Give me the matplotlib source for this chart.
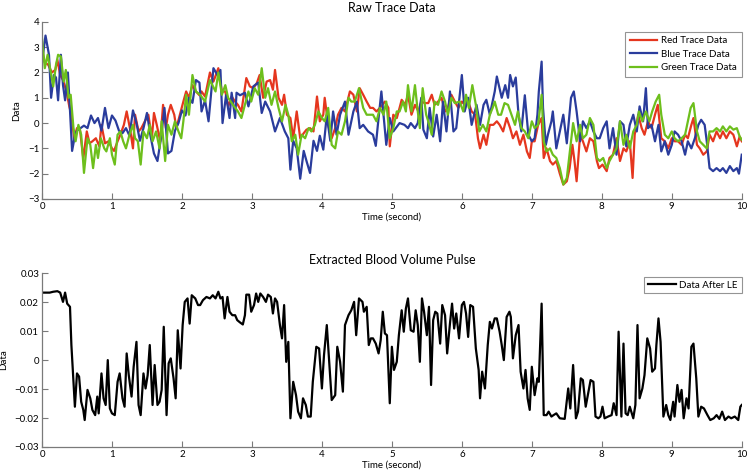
import numpy as np
import matplotlib.pyplot as plt

plt.rcParams['font.family'] = ['Lato', 'DejaVu Sans']

# ---- raw trace data (time in s, value) ----
red_t = [0, 0.04, 0.09, 0.14, 0.19, 0.22, 0.26, 0.3, 0.35, 0.39, 0.42, 0.46, 0.5, 0.54, 0.59, 0.64, 0.68, 0.72, 0.77, 0.82,
         0.85, 0.9, 0.95, 1.0, 1.03, 1.08, 1.12, 1.17, 1.21, 1.26, 1.3, 1.33, 1.38, 1.42, 1.47, 1.52, 1.57, 1.6, 1.64, 1.69,
         1.73, 1.77, 1.8, 1.84, 1.89, 1.92, 1.97, 2.02, 2.06, 2.1, 2.15, 2.2, 2.25,
         2.28, 2.33, 2.4, 2.45, 2.52, 2.57, 2.62, 2.66, 2.71, 2.76, 2.8, 2.85, 2.92, 2.97, 3.02, 3.07, 3.11, 3.16, 3.21, 3.26,
         3.3, 3.33, 3.38, 3.43, 3.46, 3.5, 3.55, 3.59, 3.64, 3.69, 3.74, 3.78, 3.83, 3.88, 3.93, 3.97, 4.02, 4.04, 4.09, 4.14,
         4.19, 4.23, 4.28, 4.33, 4.4, 4.45, 4.5, 4.54, 4.59, 4.64, 4.69, 4.73, 4.78,
         4.83, 4.9, 4.95, 4.97, 5.02, 5.07, 5.11, 5.14, 5.19, 5.23, 5.28, 5.33, 5.38, 5.42, 5.47, 5.52, 5.57, 5.61, 5.66, 5.71,
         5.76, 5.8, 5.85, 5.9, 5.95, 6.0, 6.04, 6.09, 6.14, 6.19, 6.23, 6.26, 6.31, 6.35, 6.4, 6.45, 6.5, 6.54, 6.59, 6.64,
         6.69, 6.73, 6.78, 6.83, 6.88, 6.93, 6.97, 7.0, 7.04, 7.09, 7.14, 7.17, 7.21, 7.26, 7.3, 7.35,
         7.4, 7.45, 7.5, 7.54, 7.58, 7.61, 7.64, 7.69, 7.73, 7.78, 7.83, 7.88, 7.93, 7.96, 8.01, 8.07, 8.11, 8.16, 8.21, 8.26,
         8.31, 8.35, 8.4, 8.44, 8.47, 8.52, 8.57, 8.61, 8.66, 8.71, 8.76, 8.8, 8.85, 8.9, 8.95, 9.0, 9.04, 9.09, 9.14, 9.19,
         9.23, 9.28, 9.31, 9.36, 9.4, 9.45, 9.5, 9.54, 9.59, 9.64, 9.69, 9.73, 9.78, 9.83, 9.88, 9.93, 9.97, 10.0]
red_v = [2.9, 2.4, 2.3, 2.0, 2.1, 2.5, 1.9, 1.7, 1.25, 0.66, 0.33, -0.6, -0.2, -0.2, -1.4, -0.33, -0.8, -0.72, -0.6, -0.92,
         -0.07, -0.8, -0.72, -1.0, -1.1, -0.72, -0.46, -0.07, 0.46, -0.26, -1.0, 0.33, -0.33, -0.2, 0.07, 0.33, -0.6, 0.4, -0.07, -0.72,
         0.72, -0.2, 0.33, 0.72, 0.33, -0.2, 0.33, 0.85, 1.25, 1.0, 1.5, 1.25, 1.1,
         1.25, 1.05, 2.0, 1.64, 2.17, 1.25, 1.25, 0.66, 1.05, 0.85, 0.72, 0.46, 1.78, 1.45, 1.38, 1.58, 1.9, 1.0, 1.64, 1.7,
         1.32, 2.1, 1.0, 0.72, 1.12, 0.33, 0.2, -0.6, 0.46, -0.6, -0.4, -0.26, -0.2, -0.33, 1.05, 0.07, 0.33, 1.0, -0.07, -0.6,
         -0.2, 0.33, 0.6, 0.46, 1.25, 1.12, 0.46, 1.38, 1.12, 0.85, 0.6, 0.6, 0.46,
         0.6, 0.85, 0.6, -0.92, 0.33, 0.2, 0.6, 0.92, 0.72, 1.12, 0.33, 0.72, 0.46, 0.85, 0.79, 0.79, 1.12, 0.72, 0.85, 1.0,
         0.46, 0.6, 1.12, 0.85, 0.6, 0.85, 0.72, 0.85, 0.46, 0.33, -0.6, -1.0, -0.46, -0.86, -0.07, -0.07, 0.07, -0.07, -0.33, 0.2,
         -0.2, -0.6, -0.33, -0.86, -0.46, -1.12, -1.38, -0.72, -0.72, -0.07, 0.2, -1.38, -1.0, -1.5, -1.64, -1.5,
         -2.0, -2.43, -2.3, -1.78, -0.86, -1.5, -2.3, -0.46, -0.72, -1.12, -0.6, -0.72, -1.5, -1.78, -1.64, -1.9, -1.38, -1.25, -0.6, -1.5,
         -1.0, -1.12, -0.72, -2.17, -0.46, 0.33, -0.2, -0.46, 0.07, -0.2, 0.33, 0.72, -0.6, -0.72, -1.0, -0.6, -0.72, -0.72, -0.86, -0.46,
         -0.6, -0.07, 0.2, -0.86, -1.0, -1.25, -1.12, -0.46, -0.72, -0.33, -0.6, -0.33, -0.6, -0.33, -0.46, -0.92, -0.53, -0.72]

blue_t = [0, 0.05, 0.1, 0.13, 0.17, 0.2, 0.23, 0.27, 0.3, 0.33, 0.37, 0.4, 0.43, 0.47, 0.5, 0.55, 0.6, 0.65, 0.7, 0.75,
          0.8, 0.85, 0.9, 0.95, 1.0, 1.05, 1.1, 1.15, 1.2, 1.25, 1.3, 1.35, 1.4, 1.45, 1.5, 1.55, 1.6, 1.65, 1.7, 1.75,
          1.8, 1.85, 1.9, 1.95, 2.0, 2.05, 2.1, 2.15, 2.2, 2.25,
          2.28, 2.33, 2.38, 2.45, 2.52, 2.55, 2.58, 2.63, 2.68, 2.71, 2.76, 2.78, 2.83, 2.9, 2.95, 3.02, 3.09, 3.14, 3.19, 3.26,
          3.33, 3.4, 3.47, 3.52, 3.55, 3.59, 3.64, 3.69, 3.74, 3.78, 3.83, 3.88, 3.93, 3.97, 4.02, 4.07, 4.12, 4.16, 4.21, 4.26,
          4.33, 4.38, 4.45, 4.5, 4.54, 4.59, 4.66, 4.73, 4.77, 4.8,
          4.85, 4.92, 4.97, 5.02, 5.11, 5.18, 5.23, 5.27, 5.33, 5.37, 5.42, 5.45, 5.5, 5.54, 5.59, 5.64, 5.69, 5.73, 5.78, 5.83,
          5.88, 5.92, 6.0, 6.04, 6.09, 6.14, 6.21, 6.26, 6.31, 6.35, 6.4, 6.47, 6.5, 6.57, 6.62, 6.66, 6.69, 6.73, 6.77, 6.81,
          6.85, 6.9, 6.95, 7.0, 7.04, 7.08, 7.1, 7.14, 7.16, 7.2, 7.23, 7.28, 7.3, 7.35,
          7.4, 7.45, 7.5, 7.56, 7.6, 7.64, 7.69, 7.73, 7.78, 7.83, 7.88, 7.93, 7.97, 8.02, 8.07, 8.11, 8.16, 8.21, 8.26, 8.31,
          8.35, 8.4, 8.45, 8.5, 8.54, 8.59, 8.63, 8.66, 8.71, 8.76, 8.81, 8.85, 8.9, 8.95, 9.0, 9.04, 9.09, 9.14, 9.19, 9.23,
          9.28, 9.33, 9.38, 9.42, 9.47, 9.5, 9.54, 9.59, 9.64, 9.69, 9.73, 9.78, 9.83, 9.88, 9.93, 9.96, 10.0]
blue_v = [2.4, 3.46, 2.7, 1.0, 1.9, 1.8, 0.9, 2.7, 1.5, 0.9, 2.0, 0.5, -1.1, -0.5, -0.3, -0.2, -0.1, -0.2, 0.3, 0.0,
          0.2, -0.3, 0.6, -0.2, 0.3, 0.1, -0.3, -0.4, -0.2, -0.5, 0.5, 0.0, -0.7, -0.2, 0.4, -0.5, -1.2, -1.5, -0.6, 0.6,
          -1.2, -1.1, -0.3, 0.0, 0.5, 0.3, 1.0, 0.8, 1.7, 1.6,
          0.46, 0.9, 0.07, 2.17, 1.84, 2.1, 0.0, 1.1, 0.2, 1.2, 0.2, 1.2, 1.1, 1.2, 0.66, 1.45, 1.6, 0.4, 0.85, 0.46,
          -0.33, 0.2, -0.33, -0.6, -1.84, -0.7, -1.0, -2.2, -1.1, -1.5, -1.97, -0.7, -1.1, -0.5, -1.05, 0.3, -0.7, 0.46, -0.46, 0.33,
          0.85, -0.46, 0.46, 0.85, -0.2, -0.07, -0.33, -0.46, -0.9, -0.07,
          1.25, -0.86, 0.2, -0.33, 0.0, -0.07, -0.2, 0.0, -0.2, 0.0, 1.0, -0.26, -0.6, 0.6, -0.53, 0.33, -0.72, 0.85, -0.33, 1.25,
          -0.33, -0.2, 1.9, 0.46, 1.0, -0.07, 0.72, -0.07, 0.72, 0.92, 0.33, 1.25, 1.84, 1.0, 1.5, 1.0, 1.9, 1.45, 1.8, 0.33,
          -0.33, 1.1, -0.46, -0.72, -0.6, 0.33, 1.25, 2.43, 0.6, -0.86, -0.46, 0.07, 0.46, -1.0,
          -0.33, 0.33, -0.8, 1.0, 1.25, 0.46, -0.72, 0.07, -0.2, 0.07, -0.33, -0.6, -0.6, -0.2, 0.07, -1.0, -0.2, -1.25, 0.07, -0.07,
          -0.92, -0.07, 0.33, -0.33, 0.66, 0.07, 1.38, -0.2, -0.07, -0.72, -0.07, -1.12, -0.72, -1.25, -0.86, -0.33, -0.46, -0.72, -1.25, -0.72,
          -1.0, -0.6, -0.07, 0.13, -0.07, -0.72, -1.78, -1.9, -1.78, -1.9, -1.78, -1.97, -1.7, -1.9, -1.78, -2.0, -1.25]

green_t = [0, 0.04, 0.08, 0.12, 0.16, 0.2, 0.23, 0.27, 0.31, 0.34, 0.38, 0.41, 0.45, 0.48, 0.52, 0.56, 0.6, 0.65, 0.69, 0.73,
           0.77, 0.8, 0.84, 0.89, 0.92, 0.97, 1.0, 1.04, 1.08, 1.12, 1.16, 1.2, 1.25, 1.3, 1.33, 1.37, 1.41, 1.45, 1.5, 1.54,
           1.58, 1.63, 1.68, 1.71, 1.76, 1.8, 1.85, 1.9, 1.95, 1.99, 2.02, 2.06, 2.1, 2.15, 2.2,
           2.26, 2.33, 2.4, 2.48, 2.52, 2.57, 2.62, 2.66, 2.73, 2.8, 2.85, 2.9, 2.95, 2.99, 3.04, 3.09, 3.14, 3.19, 3.23, 3.28,
           3.33, 3.38, 3.43, 3.48, 3.52, 3.57, 3.62, 3.66, 3.71, 3.76, 3.81, 3.85, 3.9, 3.95, 4.0, 4.04, 4.09, 4.14, 4.19, 4.23,
           4.28, 4.33, 4.38, 4.42, 4.47, 4.53, 4.59, 4.64, 4.69, 4.73, 4.78,
           4.83, 4.88, 4.92, 4.97, 5.02, 5.07, 5.11, 5.16, 5.2, 5.23, 5.28, 5.33, 5.37, 5.4, 5.44, 5.49, 5.52, 5.57, 5.61, 5.66,
           5.71, 5.76, 5.8, 5.85, 5.9, 5.97, 6.02, 6.06, 6.1, 6.15, 6.2, 6.25, 6.3, 6.35, 6.4, 6.44, 6.47, 6.52, 6.56, 6.61,
           6.66, 6.71, 6.76, 6.8, 6.85, 6.9, 6.95, 7.0, 7.04, 7.09, 7.14, 7.17, 7.21, 7.26, 7.3, 7.35,
           7.4, 7.45, 7.5, 7.54, 7.59, 7.64, 7.69, 7.73, 7.78, 7.83, 7.88, 7.93, 7.97, 8.02, 8.07, 8.11, 8.16, 8.21, 8.26, 8.31,
           8.35, 8.4, 8.45, 8.5, 8.53, 8.58, 8.63, 8.68, 8.72, 8.77, 8.82, 8.85, 8.9, 8.95, 9.0, 9.04, 9.09, 9.14, 9.19, 9.23,
           9.27, 9.31, 9.36, 9.4, 9.45, 9.5, 9.54, 9.59, 9.64, 9.69, 9.73, 9.78, 9.83, 9.88, 9.93, 9.97, 10.0]
green_v = [3.36, 2.17, 2.7, 2.1, 1.45, 2.3, 2.7, 2.63, 1.64, 2.1, 1.0, 1.12, -0.2, -0.72, -0.07, -0.46, -1.97, -0.6, -0.86, -1.78,
           -0.86, -1.38, -0.6, -1.0, -1.12, -0.6, -1.25, -1.64, -0.46, -0.33, -0.72, -1.0, -0.46, -0.07, -0.6, -0.72, -1.64, -0.33, -0.6, -0.07,
           -0.72, -0.33, -1.0, 0.07, -1.5, -0.07, -0.46, 0.07, -0.33, -0.6, 0.07, 1.12, 0.33, 1.9, 1.25,
           1.12, 0.85, 1.7, 1.25, 2.0, 1.12, 1.5, 1.0, 0.72, 0.46, 0.2, 0.72, 1.25, 0.85, 1.38, 1.12, 2.17, 1.0, 1.38, 0.72,
           1.25, 0.6, 0.07, 0.72, 0.33, -0.72, -0.46, -1.25, -0.46, -0.6, -0.2, -0.33, -0.07, 0.46, 0.2, 0.07, 0.6, -0.86, -1.0, -0.33,
           -0.46, 0.07, 1.0, 0.85, 0.85, 1.38, 0.6, 0.33, 0.33, 0.33, 0.07,
           0.6, 0.33, 0.85, -0.6, -0.2, 0.46, 0.46, 0.85, 0.46, 1.5, 0.46, 1.5, 0.46, -0.2, 1.38, 0.33, 0.07, -0.46, 0.85, 0.72,
           1.25, 0.85, 0.33, 1.0, 0.79, 0.85, 0.46, 1.12, 0.6, 1.5, 0.72, -0.33, -0.07, -0.33, 0.33, 0.6, 0.85, 0.33, 0.33, 0.79,
           0.72, 0.33, -0.07, 0.46, -0.2, -0.33, -0.6, 0.07, -0.2, -0.07, 1.12, -0.72, -1.12, -1.0, -1.25, -1.38,
           -1.78, -2.43, -2.17, -1.2, 0.0, -0.72, -0.07, -0.6, -0.46, 0.2, -0.07, -1.38, -1.5, -1.38, -1.78, -1.5, -1.25, -1.0, 0.07, -0.86,
           -0.46, -1.0, -0.33, -0.07, 0.46, 0.07, 0.46, 0.07, 0.46, 0.85, 1.12, 0.33, -0.46, -0.6, -0.33, -0.6, -0.72, -0.6, -0.46, 0.07,
           0.6, 0.79, -0.33, -0.72, -0.86, -1.0, -0.33, -0.33, -0.2, -0.33, -0.13, -0.33, -0.13, -0.26, -0.2, -0.53, -0.66]

# ---- extracted pulse (values x 1e-3) ----
bvp_t = [0, 0.07, 0.11, 0.16, 0.22, 0.26, 0.3, 0.33, 0.36, 0.4, 0.42, 0.45, 0.47, 0.5, 0.53, 0.56, 0.59, 0.61, 0.65, 0.69,
         0.72, 0.76, 0.79, 0.81, 0.85, 0.88, 0.91, 0.94, 0.97, 1.0, 1.04, 1.08, 1.11, 1.15, 1.18, 1.21, 1.24, 1.28, 1.31, 1.35,
         1.38, 1.41, 1.45, 1.48, 1.51, 1.54, 1.58, 1.61, 1.65, 1.68, 1.71, 1.74, 1.78, 1.81, 1.84, 1.88, 1.91, 1.94, 1.98, 2.01,
         2.04, 2.08, 2.11, 2.14, 2.19, 2.23,
         2.26, 2.3, 2.35, 2.4, 2.44, 2.48, 2.52, 2.55, 2.58, 2.61, 2.65, 2.68, 2.72, 2.76, 2.79, 2.83, 2.87, 2.9, 2.92, 2.96,
         2.99, 3.03, 3.06, 3.09, 3.12, 3.16, 3.2, 3.23, 3.27, 3.3, 3.33, 3.36, 3.4, 3.43, 3.46, 3.49, 3.52, 3.55, 3.59, 3.63,
         3.66, 3.7, 3.73, 3.77, 3.8, 3.84, 3.87, 3.92, 3.96, 4.0, 4.03, 4.07, 4.11, 4.14, 4.19, 4.22, 4.26, 4.3, 4.33, 4.38,
         4.42, 4.46, 4.49, 4.53, 4.58, 4.6, 4.64, 4.67, 4.7, 4.73, 4.77, 4.81,
         4.84, 4.87, 4.9, 4.93, 4.97, 5.0, 5.03, 5.07, 5.1, 5.14, 5.17, 5.2, 5.23, 5.27, 5.31, 5.34, 5.37, 5.4, 5.43, 5.46,
         5.5, 5.53, 5.56, 5.59, 5.62, 5.65, 5.69, 5.72, 5.76, 5.79, 5.83, 5.86, 5.89, 5.92, 5.96, 6.0, 6.03, 6.06, 6.09, 6.12,
         6.16, 6.2, 6.24, 6.26, 6.29, 6.33, 6.37, 6.4, 6.43, 6.47, 6.5, 6.54, 6.57, 6.6, 6.64, 6.68, 6.7, 6.73, 6.77, 6.81,
         6.84, 6.88, 6.91, 6.94, 6.97, 7.0, 7.04, 7.08, 7.1, 7.14, 7.17, 7.21, 7.24, 7.28, 7.31, 7.35,
         7.4, 7.47, 7.52, 7.55, 7.59, 7.63, 7.66, 7.7, 7.73, 7.77, 7.8, 7.84, 7.88, 7.91, 7.95, 7.98, 8.01, 8.04, 8.09, 8.14,
         8.17, 8.21, 8.24, 8.28, 8.31, 8.34, 8.37, 8.4, 8.45, 8.48, 8.51, 8.54, 8.58, 8.61, 8.65, 8.69, 8.72, 8.76, 8.78, 8.81,
         8.84, 8.88, 8.92, 8.95, 8.98, 9.02, 9.04, 9.08, 9.11, 9.14, 9.17, 9.21, 9.24, 9.28, 9.31, 9.35, 9.38, 9.42, 9.46, 9.51,
         9.55, 9.6, 9.64, 9.68, 9.72, 9.76, 9.81, 9.85, 9.9, 9.95, 9.98, 10.0]
bvp_v = [23.3, 23.3, 23.3, 23.6, 23.8, 23.3, 20.1, 23.3, 19.5, 18.4, 5.2, -7.5, -16.1, -4.6, -5.7, -14.4, -17.2, -20.7, -10.3, -13.2,
         -17.2, -19.0, -12.6, -18.4, -4.6, -13.2, -15.5, 0.0, -16.7, -18.4, -19.0, -7.5, -4.6, -13.2, -16.1, 2.3, -5.2, -12.6, -2.3, 6.3,
         -15.5, -19.0, -4.6, -9.8, -5.2, 5.2, -15.5, -1.7, -15.5, -14.4, -10.3, 11.5, -19.0, -1.1, 0.6, -6.3, -13.2, 10.3, -2.9, 12.1,
         20.1, 21.3, 12.6, 22.4, 21.3, 19.0,
         19.0, 20.7, 21.8, 21.3, 22.4, 21.3, 23.6, 21.3, 21.8, 14.4, 21.8, 16.7, 15.5, 15.5, 13.8, 13.0, 12.3, 15.5, 22.6, 22.6,
         16.7, 19.0, 23.0, 20.1, 23.0, 21.8, 20.1, 22.6, 21.8, 16.1, 21.3, 20.1, 12.1, 7.5, 19.0, -0.6, 6.3, -20.1, -7.5, -12.1,
         -17.8, -20.1, -13.2, -15.5, -19.5, -19.5, -7.5, 4.6, 4.0, -9.8, 1.7, 12.1, -2.9, -13.8, -12.1, 4.6, -0.6, -10.9, 12.1, 15.5,
         17.2, 20.1, 8.6, 21.3, 20.1, 16.7, 18.4, 5.2, 7.5, 7.5, 5.7, 2.3,
         6.9, 16.7, 9.2, 8.6, -14.9, 4.6, -3.4, -0.6, 8.6, 17.2, 9.8, 17.8, 21.3, 10.3, 9.8, 17.2, 12.1, -0.6, 21.3, 16.7,
         8.6, 18.4, -8.6, 13.8, 16.7, 16.1, 5.7, 19.0, 15.5, 2.3, 12.6, 19.5, 10.9, 16.1, 7.5, 19.0, 20.1, 16.1, 8.0, 19.0,
         18.4, 4.0, -3.4, -13.2, -4.0, -9.8, 5.2, 13.2, 10.9, 14.4, 14.4, 9.8, 5.2, 0.0, 14.9, 16.7, 14.9, 0.6, 8.6, 12.1,
         -4.0, -9.8, -3.4, -13.2, -17.2, -2.3, -12.1, -6.3, -7.5, 19.5, -19.0, -19.0, -17.8, -19.5, -19.0, -18.4,
         -20.1, -20.3, -9.8, -16.7, -1.7, -20.1, -17.8, -6.3, -6.9, -16.1, -12.1, -6.9, -7.5, -19.5, -20.1, -19.5, -16.1, -20.1, -19.5, -19.0,
         -14.9, -19.0, 9.8, -19.5, 5.7, -18.4, -19.0, -16.1, -20.1, -15.5, 12.1, -13.2, -9.8, -5.2, 7.5, 4.0, -4.0, -2.9, 5.2, 14.4,
         6.3, -19.5, -15.5, -19.0, -20.7, -14.4, -19.5, -8.6, -14.4, -10.3, -20.1, -13.2, -16.7, 4.6, 5.7, -6.3, -19.5, -16.1, -16.7, -19.0,
         -20.7, -20.1, -19.0, -20.3, -17.8, -20.7, -19.5, -20.1, -19.5, -20.7, -16.1, -15.5]

spine_col = '#7a7a7a'


def style_axes(ax):
    ax.spines['top'].set_visible(False)
    ax.spines['right'].set_visible(False)
    for s in ['left', 'bottom']:
        ax.spines[s].set_color(spine_col)
        ax.spines[s].set_linewidth(0.9)
    ax.tick_params(direction='in', length=4, width=0.8, color=spine_col, labelsize=7, pad=2)
    ax.set_xlim(0, 10)
    ax.set_xticks(range(0, 11))


fig = plt.figure(figsize=(7.5, 4.76), dpi=100)

# top: raw traces
ax1 = fig.add_axes([0.056, 0.582, 0.933, 0.372])
ax1.plot(red_t, red_v, color='#e5361e', lw=1.6, label='Red Trace Data')
ax1.plot(blue_t, blue_v, color='#2a3c9c', lw=1.6, label='Blue Trace Data')
ax1.plot(green_t, green_v, color='#6dbf1c', lw=1.6, label='Green Trace Data')
style_axes(ax1)
ax1.set_ylim(-3, 4)
ax1.set_yticks(range(-3, 5))
ax1.set_ylabel('Data', fontsize=7, labelpad=5)
ax1.set_xlabel('Time (second)', fontsize=7, labelpad=1)
ax1.set_title('Raw Trace Data', fontsize=9, pad=7)
leg1 = ax1.legend(loc='upper right', bbox_to_anchor=(1.0, 0.945), fontsize=7, frameon=True, fancybox=False,
                  handlelength=2.8, borderaxespad=0, borderpad=0.5, labelspacing=0.45, handletextpad=0.4)
leg1.get_frame().set_edgecolor(spine_col)
leg1.get_frame().set_linewidth(0.8)

# bottom: extracted blood volume pulse
ax2 = fig.add_axes([0.056, 0.061, 0.933, 0.365])
ax2.plot(bvp_t, np.array(bvp_v) * 1e-3, color='black', lw=1.6, label='Data After LE')
style_axes(ax2)
ax2.set_ylim(-0.03, 0.03)
ax2.set_yticks([-0.03, -0.02, -0.01, 0, 0.01, 0.02, 0.03])
ax2.set_yticklabels(['\u22120.03', '\u22120.02', '\u22120.01', '0', '0.01', '0.02', '0.03'])
ax2.set_ylabel('Data', fontsize=7, labelpad=5)
ax2.set_xlabel('Time (second)', fontsize=7, labelpad=1)
ax2.set_title('Extracted Blood Volume Pulse', fontsize=9, pad=7)
leg2 = ax2.legend(loc='upper right', bbox_to_anchor=(1.0, 0.98), fontsize=7, frameon=True, fancybox=False,
                  handlelength=2.8, borderaxespad=0, borderpad=0.4, handletextpad=0.4)
leg2.get_frame().set_edgecolor(spine_col)
leg2.get_frame().set_linewidth(0.8)

fig.savefig('out.png', dpi=100)
